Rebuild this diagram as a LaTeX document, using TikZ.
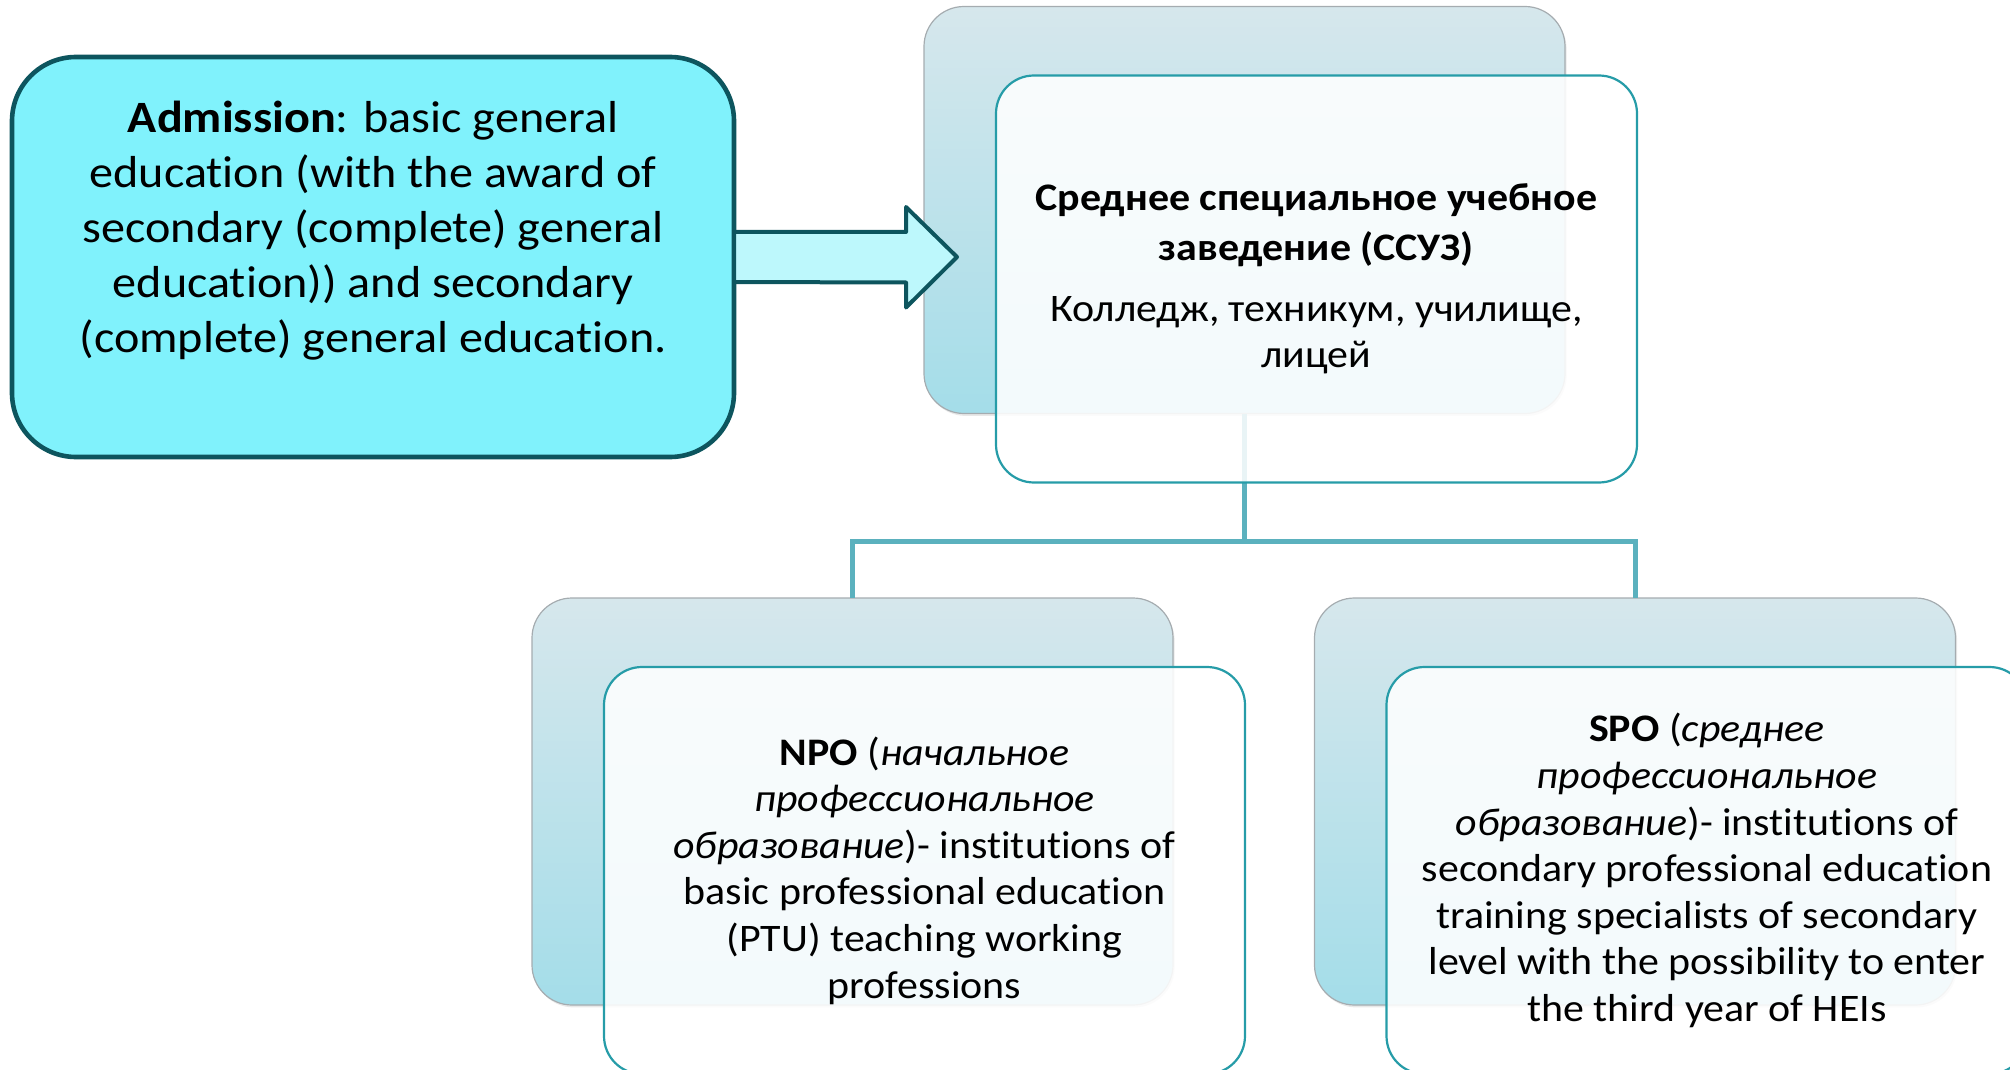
\documentclass[tikz,border=0pt]{standalone}
\usepackage{fontspec}
\setmainfont{Carlito}[FakeStretch=1.075,Ligatures=NoCommon]
\usetikzlibrary{positioning,shadows}

\definecolor{admfill}{RGB}{128,242,252}
\definecolor{admline}{RGB}{13,85,94}
\definecolor{arrfill}{RGB}{189,248,252}
\definecolor{backtop}{RGB}{214,231,236}
\definecolor{backbot}{RGB}{164,221,233}
\definecolor{backline}{RGB}{165,172,176}
\definecolor{frontline}{RGB}{38,156,168}
\definecolor{linkcol}{RGB}{91,177,190}

\begin{document}
\begin{tikzpicture}[x=0.5pt,y=-0.5pt,inner sep=0pt,outer sep=0pt,
	backbox/.style={rounded corners=20pt,draw=backline,line width=0.6pt,
		top color=backtop,bottom color=backbot,
		minimum width=320.5pt,minimum height=203.5pt,
		drop shadow={opacity=0.18,shadow xshift=0.8pt,shadow yshift=-1.2pt}},
	frontbox/.style={rounded corners=19pt,draw=frontline,line width=1.1pt,
		fill=white,fill opacity=0.87,text opacity=1,
		minimum width=320.5pt,minimum height=203.5pt,align=center,
		font=\fontsize{19.5}{23.3}\selectfont},
	link/.style={draw=linkcol,line width=2.5pt},
	admbox/.style={rounded corners=32pt,draw=admline,line width=2.3pt,fill=admfill,
		minimum width=361pt,minimum height=200pt},
	blockarrow/.style={draw=admline,line width=2pt,fill=arrfill,line join=round}]
	\useasboundingbox (0,0) rectangle (2010,1070);
	\clip (0,0) rectangle (2010,1070);
	\node[backbox] (topback) at (1244.5,210) {};
	\node[backbox] (npoback) at (852.5,801.5) {};
	\node[backbox] (spoback) at (1635,801.5) {};
	\draw[link] (topback.south) -- ++(0,128) coordinate (fork) -| (npoback.north);
	\draw[link] (fork) -| (spoback.north);
	\node[admbox] (adm) at (373,257) {};
	\node[align=center,font=\fontsize{22.4}{27.5}\selectfont] (admtext) at ([yshift=13pt]adm.center)
		{\textbf{Admission}: basic general\\ education (with the award of\\ secondary (complete) general\\ education)) and secondary\\ (complete) general education.};
	\coordinate (tip) at (957,257);
	\draw[blockarrow] ([yshift=12.5pt]adm.east) -- ++(172,0) -- ++(0,-25) -- (tip)
		-- ++(-51,50.5) -- ++(0,-25) -- ([yshift=-12.5pt]adm.east) -- cycle;
	\node[frontbox] (topfront) at ([xshift=36pt,yshift=-34.5pt]topback.center)
		{\textbf{Среднее специальное учебное}\\[1.7pt] \textbf{заведение (ССУЗ)}\\[7pt]
		Колледж, техникум, училище,\\ лицей};
	\node[frontbox] (npofront) at ([xshift=36pt,yshift=-34.5pt]npoback.center)
		{\textbf{NPO} (\textit{начальное}\\ \textit{профессиональное}\\
		\textit{образование})- institutions of\\ basic professional education\\
		(PTU) teaching working\\ professions};
	\node[frontbox] (spofront) at ([xshift=36pt,yshift=-34.5pt]spoback.center)
		{\textbf{SPO} (\textit{среднее}\\ \textit{профессиональное}\\
		\textit{образование})- institutions of\\ secondary professional education\\
		training specialists of secondary\\ level with the possibility to enter\\
		the third year of HEIs};
\end{tikzpicture}
\end{document}
